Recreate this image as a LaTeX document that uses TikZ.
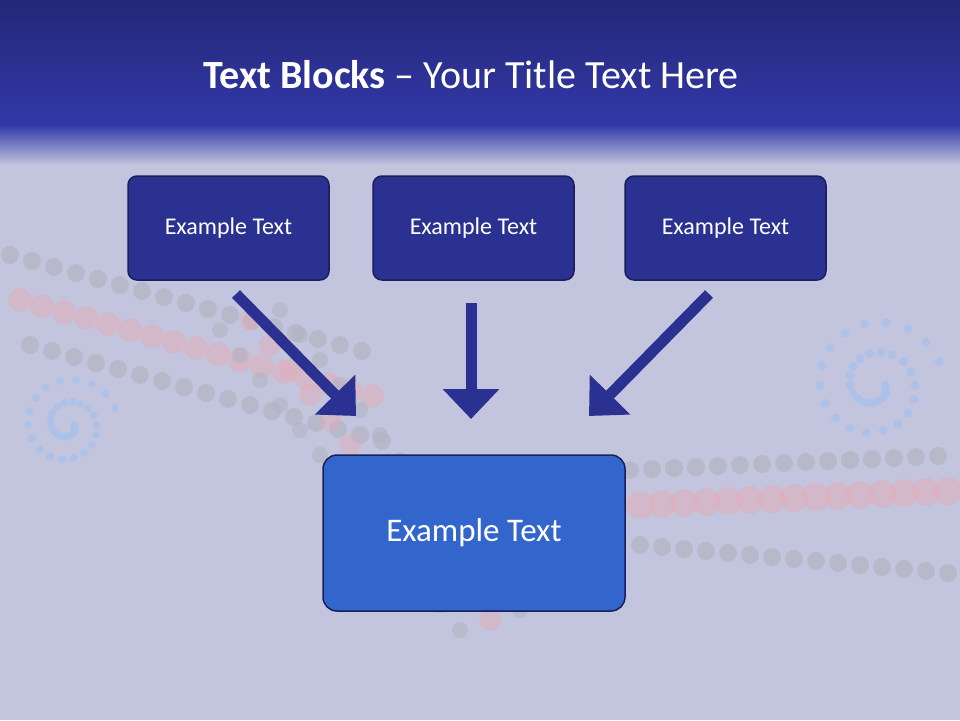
\documentclass[tikz,border=0pt]{standalone}
\usepackage{fontspec}
\setmainfont{Carlito}
\usetikzlibrary{arrows.meta}
\definecolor{bg}{HTML}{C2C5DD}
\definecolor{hdtop}{HTML}{242878}
\definecolor{hdbot}{HTML}{3238A8}
\definecolor{boxdark}{HTML}{2B3190}
\definecolor{boxline}{HTML}{1A1F5A}
\definecolor{bigbox}{HTML}{3366CC}
\definecolor{pinkdot}{HTML}{E8A9B4}
\definecolor{greydot}{HTML}{B0B2C0}
\definecolor{bluedot}{HTML}{A9C2EC}
\tikzset{
  small/.style={draw=boxline, line width=1.5pt, fill=boxdark, rounded corners=9pt, minimum width=201pt, minimum height=104pt, text=white, font=\fontsize{24}{28}\selectfont},
  big/.style={draw=boxline, line width=1.5pt, fill=bigbox, rounded corners=14pt, minimum width=302pt, minimum height=156pt, text=white, font=\fontsize{33}{38}\selectfont},
  blockarrow/.style={draw=boxdark, line width=11pt, -{Triangle[length=30pt,width=55pt]}},
}
\begin{document}
\begin{tikzpicture}[x=1pt,y=-1pt]
\useasboundingbox (0,0) rectangle (960,720);
\fill[bg] (0,0) rectangle (960,720);
% decorative dots
\foreach \i in {0,...,16} {
  \fill[pinkdot, opacity=0.45] ({20+\i*22},{300+\i*6}) circle (12);
  \fill[greydot, opacity=0.6] ({10+\i*22},{255+\i*6}) circle (9);
  \fill[greydot, opacity=0.6] ({30+\i*22},{345+\i*6}) circle (9);
}
\foreach \i in {0,...,14} {
  \fill[pinkdot, opacity=0.45] ({640+\i*22},{505-\i*1}) circle (14);
  \fill[greydot, opacity=0.6] ({630+\i*22},{470-\i*1}) circle (9);
  \fill[greydot, opacity=0.6] ({640+\i*22},{545+\i*2}) circle (9);
}
\foreach \i in {0,...,12} {
  \fill[pinkdot, opacity=0.4] ({250+\i*20},{320+\i*25}) circle (11);
  \fill[greydot, opacity=0.55] ({220+\i*20},{330+\i*25}) circle (8);
  \fill[greydot, opacity=0.55] ({280+\i*20},{310+\i*25}) circle (8);
}
\foreach \a in {0,20,...,700} {
  \fill[bluedot, opacity=0.8] ({875+(10+\a/12)*cos(\a)},{385+(10+\a/12)*sin(\a)}) circle (4.5);
  \fill[bluedot, opacity=0.8] ({68+(6+\a/16)*cos(\a)},{425+(6+\a/16)*sin(\a)}) circle (4);
}
% header
\shade[top color=hdtop, bottom color=hdbot] (0,0) rectangle (960,125);
\shade[top color=hdbot, bottom color=bg] (0,125) rectangle (960,165);
\node[text=white, font=\fontsize{40}{46}\selectfont] (title) at (471,75) {\textbf{Text Blocks} – Your Title Text Here};
% boxes
\node[small] (b1) at (228.5,228) {Example Text};
\node[small] (b2) at (473.5,228) {Example Text};
\node[small] (b3) at (725.5,228) {Example Text};
\node[big] (main) at (474,533) {Example Text};
\coordinate (e1) at (356,416);
\coordinate (e2) at (471,419);
\coordinate (e3) at (589,416);
\coordinate (s1) at (236,294);
\coordinate (s2) at (471,303);
\coordinate (s3) at (709,294);
\draw[blockarrow] (s1) -- (e1);
\draw[blockarrow] (s2) -- (e2);
\draw[blockarrow] (s3) -- (e3);
\end{tikzpicture}
\end{document}
